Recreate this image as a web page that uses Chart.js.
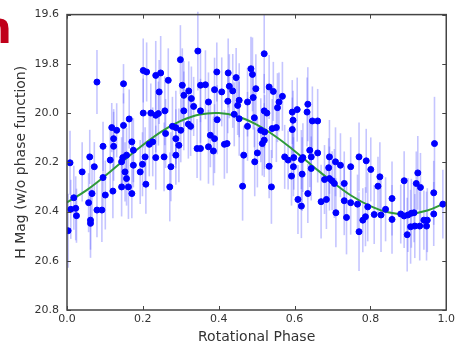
<!DOCTYPE html>
<html>
<head>
<meta charset="utf-8">
<script src="https://cdn.jsdelivr.net/npm/chart.js@4.4.0/dist/chart.umd.min.js"></script>
<style>
  html, body { margin: 0; padding: 0; background: #fff; }
</style>
</head>
<body>
<canvas id="lc" width="458" height="349"></canvas>
<script>
// phase / magnitude / error
const phase = [
  0.079,0.149,0.164,0.118,0.131,0.149,0.123,0.095,0.123,0.171,
  0.147,0.157,0.175,0.114,0.060,0.072,0.008,0.040,0.095,0.144,
  0.153,0.157,0.175,0.144,0.162,0.121,0.101,0.171,0.066,0.018,
  0.057,0.079,0.092,0.010,0.023,0.025,0.062,0.062,0.003,
  0.201,0.210,0.234,0.247,0.267,0.299,0.345,0.395,0.243,0.304,
  0.308,0.321,0.328,0.352,0.365,0.373,0.389,0.201,0.221,0.234,
  0.241,0.258,0.308,0.334,0.352,0.260,0.278,0.287,0.300,0.320,
  0.326,0.217,0.226,0.287,0.295,0.378,0.389,0.343,0.352,0.373,
  0.386,0.206,0.234,0.256,0.287,0.199,0.274,0.193,0.208,0.271,
  0.520,0.425,0.485,0.489,0.446,0.408,0.428,0.437,0.498,0.533,
  0.544,0.568,0.424,0.454,0.450,0.476,0.491,0.559,0.555,0.594,
  0.520,0.527,0.396,0.441,0.454,0.494,0.476,0.511,0.521,0.541,
  0.552,0.594,0.422,0.415,0.515,0.520,0.466,0.502,0.574,0.583,
  0.495,0.533,0.597,0.463,0.539,
  0.635,0.633,0.607,0.596,0.647,0.661,0.640,0.661,0.644,0.598,
  0.618,0.622,0.644,0.692,0.690,0.708,0.721,0.748,0.770,0.789,
  0.620,0.592,0.679,0.692,0.699,0.705,0.731,0.635,0.609,0.618,
  0.670,0.684,0.731,0.748,0.766,0.709,0.737,0.780,0.787,0.770,
  0.969,0.801,0.825,0.820,0.925,0.921,0.932,0.889,0.857,0.967,
  0.793,0.810,0.828,0.840,0.857,0.880,0.889,0.899,0.908,0.915,
  0.967,0.991,0.906,0.917,0.930,0.941,0.950,0.948,0.897
];
const hmag = [
  19.874,19.881,20.024,20.059,20.070,20.050,20.104,20.135,20.135,20.117,
  20.181,20.171,20.151,20.191,20.178,20.218,20.202,20.239,20.262,20.198,
  20.239,20.266,20.212,20.300,20.300,20.317,20.333,20.327,20.327,20.344,
  20.364,20.394,20.394,20.391,20.387,20.417,20.435,20.448,20.478,
  19.827,19.833,19.847,19.837,19.867,19.783,19.748,19.833,19.914,19.887,
  19.928,19.910,19.941,19.887,19.885,19.955,19.905,20.000,20.000,20.009,
  20.002,19.991,19.991,19.973,19.991,20.083,20.054,20.059,20.070,20.045,
  20.054,20.127,20.117,20.104,20.131,20.090,20.104,20.144,20.144,20.137,
  20.154,20.178,20.181,20.178,20.171,20.208,20.218,20.239,20.289,20.300,
  19.759,19.837,19.820,19.843,19.856,19.914,19.891,19.910,19.901,19.894,
  19.912,19.932,19.952,19.948,19.969,19.955,19.937,19.955,19.978,19.996,
  19.991,20.000,20.027,20.005,20.023,20.019,20.054,20.070,20.077,20.063,
  20.059,20.067,20.124,20.127,20.124,20.110,20.171,20.162,20.178,20.191,
  20.198,20.216,20.218,20.297,20.300,
  19.964,19.996,19.986,20.029,20.032,20.032,20.151,20.162,20.178,20.181,
  20.189,20.181,20.225,20.178,20.222,20.198,20.212,20.218,20.178,20.194,
  20.248,20.256,20.270,20.266,20.275,20.286,20.286,20.327,20.351,20.378,
  20.360,20.351,20.356,20.364,20.370,20.405,20.424,20.435,20.421,20.482,
  20.124,20.229,20.259,20.297,20.243,20.286,20.302,20.275,20.347,20.324,
  20.381,20.412,20.414,20.391,20.432,20.410,20.418,20.414,20.407,20.405,
  20.410,20.370,20.462,20.459,20.459,20.435,20.435,20.459,20.494
];
const hmagErr = [
  0.13,0.08,0.12,0.10,0.11,0.13,0.12,0.10,0.14,0.09,
  0.12,0.11,0.13,0.12,0.11,0.10,0.13,0.12,0.14,0.10,
  0.12,0.11,0.09,0.12,0.13,0.11,0.14,0.10,0.12,0.13,
  0.12,0.11,0.13,0.12,0.13,0.11,0.12,0.14,0.15,
  0.13,0.12,0.14,0.15,0.13,0.14,0.16,0.12,0.13,0.15,
  0.14,0.12,0.13,0.15,0.14,0.12,0.13,0.14,0.12,0.15,
  0.13,0.14,0.16,0.12,0.13,0.14,0.12,0.15,0.13,0.14,
  0.12,0.13,0.14,0.12,0.15,0.13,0.14,0.12,0.13,0.15,
  0.14,0.12,0.13,0.14,0.12,0.13,0.14,0.13,0.12,0.14,
  0.16,0.14,0.13,0.15,0.12,0.14,0.13,0.15,0.14,0.13,
  0.12,0.14,0.13,0.15,0.12,0.14,0.13,0.12,0.14,0.13,
  0.15,0.12,0.14,0.13,0.15,0.12,0.14,0.13,0.15,0.12,
  0.14,0.13,0.12,0.14,0.13,0.15,0.12,0.14,0.13,0.12,
  0.14,0.13,0.12,0.14,0.15,
  0.15,0.14,0.13,0.12,0.14,0.13,0.15,0.12,0.14,0.13,
  0.12,0.14,0.13,0.15,0.12,0.14,0.13,0.12,0.14,0.13,
  0.15,0.12,0.14,0.13,0.12,0.14,0.13,0.12,0.14,0.13,
  0.15,0.12,0.14,0.13,0.12,0.14,0.15,0.13,0.12,0.16,
  0.19,0.13,0.14,0.12,0.15,0.13,0.14,0.12,0.15,0.13,
  0.14,0.12,0.15,0.13,0.14,0.12,0.13,0.15,0.14,0.12,
  0.13,0.14,0.15,0.13,0.14,0.12,0.13,0.14,0.15
];

// model curve
const curvePhase = [0,0.05,0.10,0.15,0.20,0.25,0.30,0.35,0.40,0.45,0.50,0.55,0.60,0.65,0.70,0.75,0.80,0.85,0.90,0.95,1.00];
const curveMag = [20.363,20.315,20.256,20.192,20.130,20.074,20.032,20.006,20.000,20.014,20.047,20.095,20.154,20.218,20.280,20.336,20.378,20.404,20.410,20.396,20.363];

const xTicks = ['0.0','0.2','0.4','0.6','0.8','1.0'];
const yTicks = ['19.6','19.8','20.0','20.2','20.4','20.6','20.8'];

const points = phase.map((p, i) => ({ x: p, y: hmag[i] }));
const curve = curvePhase.map((p, i) => ({ x: p, y: curveMag[i] }));

// tick label looked up by value (ticks come reversed on the y axis)
const labelFor = (list, v) => list.find(s => Math.abs(parseFloat(s) - v) < 1e-6) || "";

// vertical error bars, under the points
const errorBars = {
  id: "errorBars",
  beforeDatasetsDraw(chart) {
    const { ctx, scales: { x, y } } = chart;
    ctx.save();
    ctx.strokeStyle = "rgba(90,90,255,0.35)";
    ctx.lineWidth = 1.6;
    for (let i = 0; i < phase.length; i++) {
      const px = x.getPixelForValue(phase[i]);
      ctx.beginPath();
      ctx.moveTo(px, y.getPixelForValue(hmag[i] - hmagErr[i]));
      ctx.lineTo(px, y.getPixelForValue(hmag[i] + hmagErr[i]));
      ctx.stroke();
    }
    ctx.restore();
  }
};

// box + inward ticks like matplotlib, and the cut-off title letter
const frame = {
  id: "frame",
  afterDraw(chart) {
    const { ctx, chartArea: a, scales: { x, y } } = chart;
    ctx.save();
    ctx.strokeStyle = "#444";
    ctx.lineWidth = 1.5;
    ctx.strokeRect(a.left, a.top, a.right - a.left, a.bottom - a.top);
    ctx.lineWidth = 1;
    ctx.beginPath();
    x.ticks.forEach(t => {
      const px = Math.round(x.getPixelForValue(t.value)) + 0.5;
      ctx.moveTo(px, a.bottom); ctx.lineTo(px, a.bottom - 4);
      ctx.moveTo(px, a.top); ctx.lineTo(px, a.top + 4);
    });
    y.ticks.forEach(t => {
      const py = Math.round(y.getPixelForValue(t.value)) + 0.5;
      ctx.moveTo(a.left, py); ctx.lineTo(a.left + 4, py);
      ctx.moveTo(a.right, py); ctx.lineTo(a.right - 4, py);
    });
    ctx.stroke();
    ctx.fillStyle = "#c0001a";
    ctx.font = "bold 45px 'DejaVu Sans'";
    ctx.fillText("n", -20, 43);
    ctx.restore();
  }
};

const tickFont = { family: "'DejaVu Sans'", size: 11 };
const titleFont = { family: "'DejaVu Sans'", size: 14 };

new Chart(document.getElementById("lc").getContext("2d"), {
  type: "scatter",
  data: {
    datasets: [
      {
        data: points,
        backgroundColor: "#0000ff",
        borderColor: "#0000ff",
        pointRadius: 3,
        order: 0
      },
      {
        type: "line",
        data: curve,
        borderColor: "#2f9a3a",
        borderWidth: 2,
        pointRadius: 0,
        fill: false,
        tension: 0.4,
        order: 1
      }
    ]
  },
  options: {
    responsive: false,
    animation: false,
    layout: { padding: { left: 0, right: 8, top: 14, bottom: 0 } },
    plugins: { legend: { display: false }, tooltip: { enabled: false } },
    scales: {
      x: {
        type: "linear",
        min: 0,
        max: 1,
        grid: { display: false, drawTicks: false },
        border: { display: false },
        ticks: {
          stepSize: 0.2,
          padding: 3,
          color: "#333",
          font: tickFont,
          callback: v => labelFor(xTicks, v)
        },
        title: { display: true, text: "Rotational Phase", color: "#333", font: titleFont, padding: { top: 0, bottom: 3 } },
        afterFit: s => { s.height = 39; }
      },
      y: {
        reverse: true,
        min: 19.6,
        max: 20.8,
        grid: { display: false, drawTicks: false },
        border: { display: false },
        ticks: {
          stepSize: 0.2,
          padding: 8,
          color: "#333",
          font: tickFont,
          callback: v => labelFor(yTicks, v)
        },
        title: { display: true, text: "H Mag (w/o phase function)", color: "#333", font: titleFont, padding: { top: 13, bottom: 0 } },
        afterFit: s => { s.width = 67; }
      }
    }
  },
  plugins: [errorBars, frame]
});
</script>
</body>
</html>
